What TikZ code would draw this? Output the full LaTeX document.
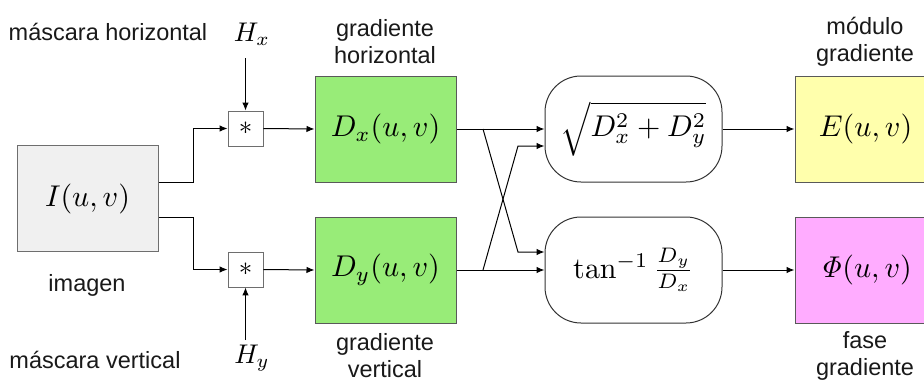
\documentclass[tikz,border=0pt]{standalone}
\usepackage{graphicx}
\usepackage[no-math]{fontspec}
\newfontfamily\labfont{Liberation Sans}
\usetikzlibrary{arrows.meta,calc}
\definecolor{igray}{RGB}{240,240,240}
\definecolor{dgreen}{RGB}{152,236,120}
\definecolor{eyellow}{RGB}{255,255,172}
\definecolor{phimag}{RGB}{255,172,255}
\definecolor{bordergray}{RGB}{110,110,110}
\newcommand{\mymathL}[1]{\scalebox{3.0}{$#1$}}
\newcommand{\mymathM}[1]{\scalebox{2.7}{$#1$}}
\tikzset{
  blk/.style={draw=bordergray, line width=1pt, minimum width=141pt, minimum height=106pt, inner sep=0pt},
  starbox/.style={draw=bordergray, fill=white, line width=0.9pt, minimum width=35pt, minimum height=35pt, inner sep=0pt},
  fbox/.style={draw=black!80, line width=1pt, rounded corners=36pt, minimum width=177pt, minimum height=106pt, inner sep=0pt},
  lab/.style={font=\labfont\fontsize{23.5}{27}\selectfont, align=center, text=black!90, inner sep=0pt},
  mlab/.style={inner sep=0pt},
  arr/.style={draw=black, line width=1pt, -{Latex[length=8pt,width=6.5pt]}},
  ln/.style={draw=black, line width=1pt}
}
\begin{document}
\begin{tikzpicture}[x=1pt,y=-1pt]
\useasboundingbox (0,0) rectangle (924,383);
\begin{scope}
\clip (0,0) rectangle (924,383);
% blocks
\node[blk, fill=igray] (I) at (87.5,198.5) {\mymathL{I(u,v)}};
\node[starbox] (s1) at (245.5,128.5) {\mymathM{*}};
\node[starbox] (s2) at (245.5,269.5) {\mymathM{*}};
\node[blk, fill=dgreen, draw=black!65] (Dx) at (385.5,129) {\mymathL{D_x(u,v)}};
\node[blk, fill=dgreen, draw=black!65] (Dy) at (385.5,270) {\mymathL{D_y(u,v)}};
\node[fbox] (sq) at (633.5,129) {\mymathL{\sqrt{D_x^2+D_y^2}}};
\node[fbox] (tn) at (633.5,270) {\mymathL{\tan^{-1}\frac{D_y}{D_x}}};
\node[blk, fill=eyellow, draw=black!65] (E) at (865.5,129) {\mymathL{E(u,v)}};
\node[blk, fill=phimag, draw=black!65] (P) at (865.5,270) {\mymathL{\mathit{\Phi}(u,v)}};
\end{scope}
% labels
\node[lab] (l1) at (108,32) {máscara horizontal};
\node[lab] (l2) at (87,285) {imagen};
\node[lab] (l3) at (95,360) {máscara vertical};
\node[lab] (l4) at (385,42) {gradiente\\horizontal};
\node[lab] (l5) at (385,356) {gradiente\\vertical};
\node[lab] (l6) at (865,42) {módulo\\gradiente};
\node[lab] (l7) at (865,356) {fase\\gradiente};
\node[mlab] (hx) at (252,34) {\mymathM{H_x}};
\node[mlab] (hy) at (252,358) {\mymathM{H_y}};
% coordinates
\coordinate (hxs) at (245.5,58);
\coordinate (hys) at (245.5,340);
\coordinate (c1) at (483,129);
\coordinate (c2) at (518,252);
\coordinate (c3) at (483,270);
\coordinate (c4) at (518,146);
% connectors
\draw[arr] ([yshift=16.5pt]I.east) -- ++(35,0) |- (s1.west);
\draw[arr] ([yshift=-18.5pt]I.east) -- ++(35,0) |- (s2.west);
\draw[arr] (hxs) -- (s1.north);
\draw[arr] (hys) -- (s2.south);
\draw[arr] (s1.east) -- (Dx.west);
\draw[arr] (s2.east) -- (Dy.west);
\draw[arr] (Dx.east) -- (sq.west);
\draw[arr] (Dy.east) -- (tn.west);
\draw[arr] (c1) -- (c2) -- (c2 -| tn.west);
\draw[arr] (c3) -- (c4) -- (c4 -| sq.west);
\draw[arr] (sq.east) -- (E.west);
\draw[arr] (tn.east) -- (P.west);
\end{tikzpicture}
\end{document}
